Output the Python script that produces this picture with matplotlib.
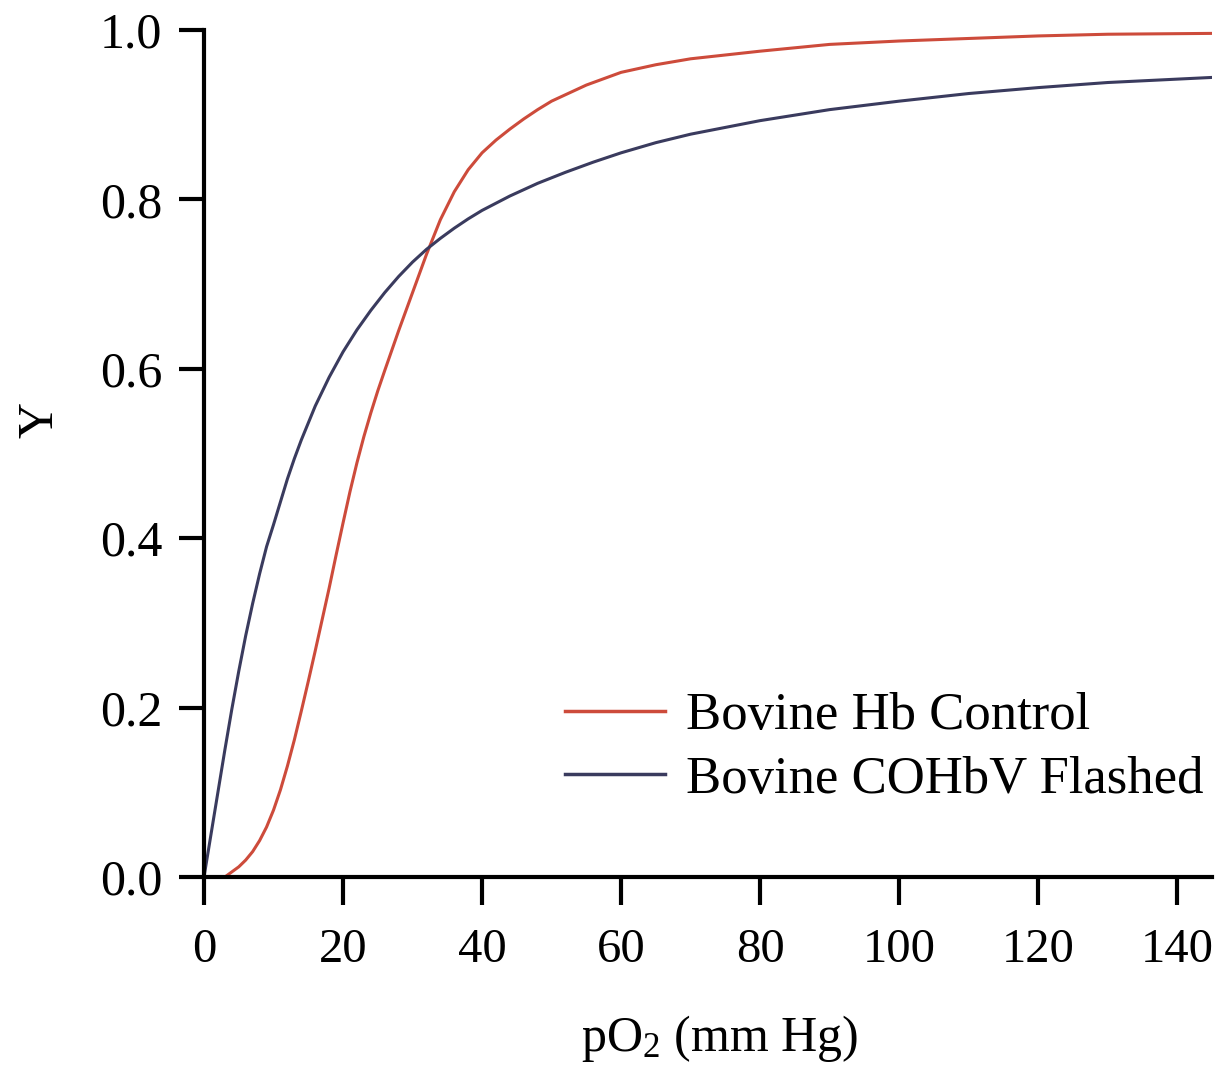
import matplotlib
matplotlib.use("Agg")
import matplotlib.pyplot as plt

# ---- data ----
control_x = [3, 4, 5, 6, 7, 8, 9, 10, 11, 12, 13, 14, 15, 16, 17, 18, 19, 20,
             21, 22, 23, 24, 25, 26, 28, 30, 32, 34, 36, 38, 40, 42, 44, 46, 48, 50,
             55, 60, 65, 70, 80, 90, 100, 110, 120, 130, 145]
control_y = [0.000, 0.006, 0.012, 0.020, 0.030, 0.043, 0.059, 0.079, 0.103, 0.131,
             0.162, 0.196, 0.231, 0.267, 0.304, 0.341, 0.380, 0.418, 0.455, 0.489,
             0.520, 0.548, 0.574, 0.598, 0.645, 0.690, 0.735, 0.776, 0.809, 0.835,
             0.855, 0.870, 0.883, 0.895, 0.906, 0.916, 0.935, 0.950, 0.959, 0.966,
             0.975, 0.983, 0.987, 0.990, 0.993, 0.995, 0.996]

flashed_x = [0, 1, 2, 3, 4, 5, 6, 7, 8, 9, 10, 12, 13, 14, 16, 18, 20, 22, 24,
             26, 28, 30, 32, 34, 36, 38, 40, 44, 48, 52, 56, 60, 65, 70, 80, 90,
             100, 110, 120, 130, 145]
flashed_y = [0.000, 0.050, 0.100, 0.150, 0.198, 0.243, 0.285, 0.323, 0.358, 0.390,
             0.416, 0.470, 0.494, 0.516, 0.556, 0.590, 0.620, 0.646, 0.669, 0.690,
             0.709, 0.726, 0.741, 0.754, 0.766, 0.777, 0.787, 0.804, 0.819, 0.832,
             0.844, 0.855, 0.867, 0.877, 0.893, 0.906, 0.916, 0.925, 0.932, 0.938,
             0.944]

series_labels = ["Bovine Hb Control", "Bovine COHbV Flashed"]
x_ticks = [0, 20, 40, 60, 80, 100, 120, 140]
y_ticks = [0.0, 0.2, 0.4, 0.6, 0.8, 1.0]
y_tick_labels = ["0.0", "0.2", "0.4", "0.6", "0.8", "1.0"]

plt.rcParams['font.family'] = ['Liberation Serif', 'DejaVu Serif']
plt.rcParams['mathtext.fontset'] = 'custom'
plt.rcParams['mathtext.rm'] = 'Liberation Serif'
plt.rcParams['mathtext.it'] = 'Liberation Serif:italic'

W, H = 1228, 1074
fig = plt.figure(figsize=(W / 100, H / 100), dpi=100)
ax = fig.add_axes([204 / W, (H - 877) / H, (1212 - 204) / W, 847 / H])

red = "#cd4b3b"
blue = "#3a3b5e"
ax.plot(control_x, control_y, color=red, lw=2.2, label=series_labels[0],
        solid_joinstyle="round")
ax.plot(flashed_x, flashed_y, color=blue, lw=2.2, label=series_labels[1],
        solid_joinstyle="round")

ax.set_xlim(0, 145)
ax.set_ylim(0, 1.0)
ax.set_xticks(x_ticks)
ax.set_yticks(y_ticks)
ax.set_yticklabels(y_tick_labels)

for s in ["top", "right"]:
    ax.spines[s].set_visible(False)
for s in ["left", "bottom"]:
    ax.spines[s].set_linewidth(3)
    ax.spines[s].set_color("black")

ax.tick_params(axis="x", direction="out", length=20, width=3, pad=17, labelsize=35)
ax.tick_params(axis="y", direction="out", length=18, width=3, pad=12, labelsize=36)

ax.set_xlabel(r"pO$_\mathrm{2}$ (mm Hg)", fontsize=36, va="center")
ax.xaxis.set_label_coords((720 - 204) / 1008, -(1038 - 877) / 847)
ax.set_ylabel("Y", fontsize=36, va="center")
ax.yaxis.set_label_coords((40 - 204) / 1008, (877 - 420) / 847)

leg = ax.legend(loc="upper left", bbox_to_anchor=(565 / W, (H - 692) / H),
                bbox_transform=fig.transFigure, frameon=False, fontsize=38,
                handlelength=1.9, handletextpad=0.4, labelspacing=0.3,
                borderaxespad=0, borderpad=0)
for line in leg.get_lines():
    line.set_linewidth(2.5)

fig.savefig("out.png", dpi=100)
